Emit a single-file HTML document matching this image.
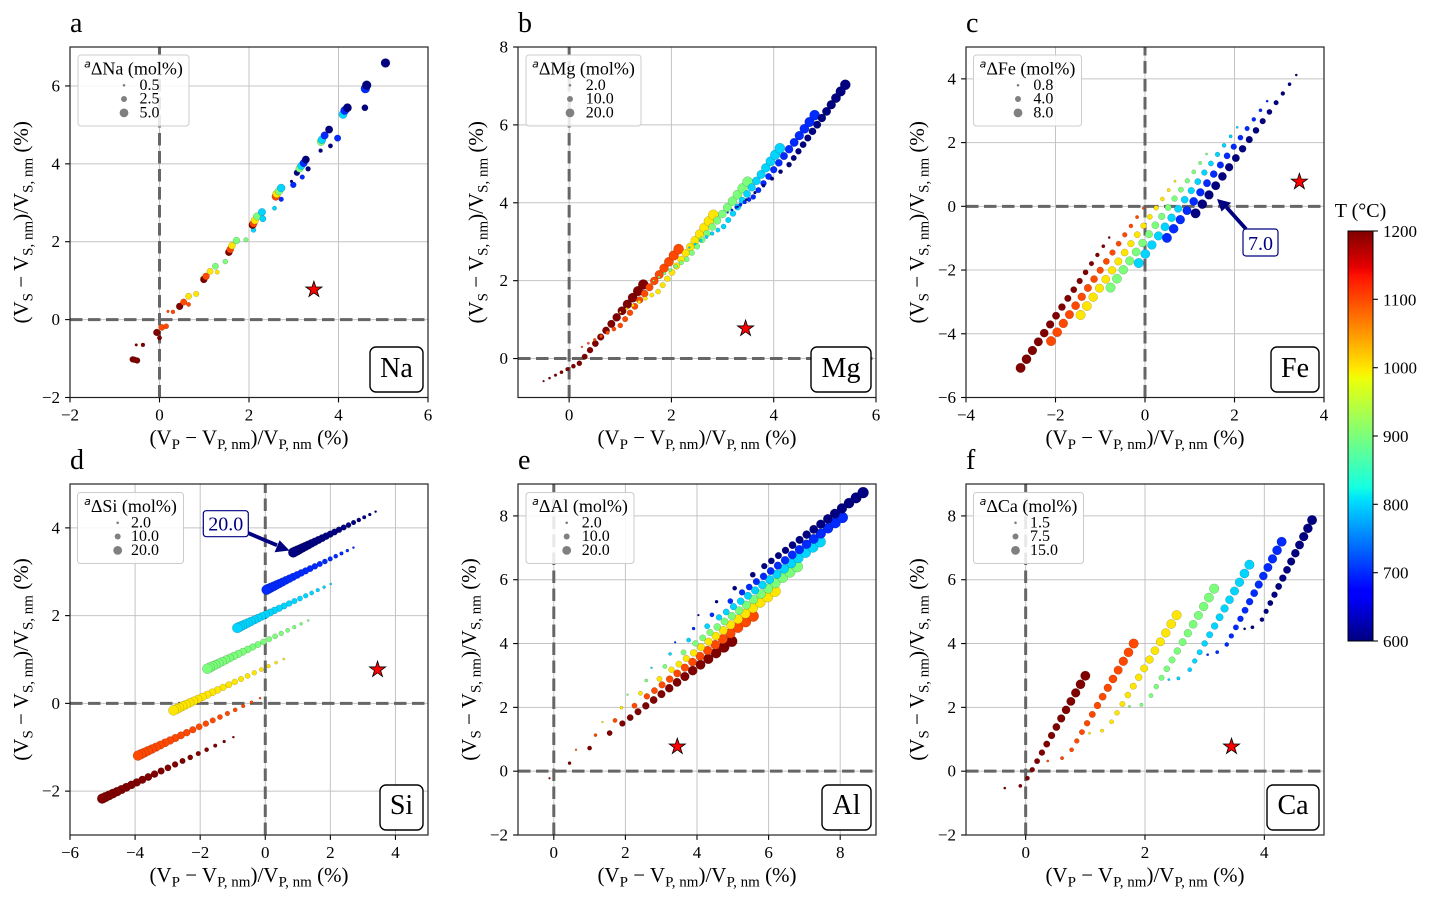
<!DOCTYPE html>
<html><head><meta charset="utf-8">
<style>
html,body{margin:0;padding:0;background:#fff;}
svg{display:block;font-family:"Liberation Serif","Times New Roman",serif;}
.tk{font-size:17px;fill:#000;}
.al{font-size:21px;fill:#000;white-space:pre;}
.sb{font-size:15px;}
.pl{font-size:28px;}
.lt{font-size:18px;white-space:pre;}
.le{font-size:16px;}
.eb{font-size:28px;}
.sup{font-family:"DejaVu Sans",sans-serif;font-size:11px;font-style:italic;}
.an{font-size:20px;fill:#000080;}
</style></head><body>
<svg id="s" width="1430" height="902" viewBox="0 0 1430 902" xmlns="http://www.w3.org/2000/svg">
<defs>
<linearGradient id="jet" x1="0" y1="0" x2="0" y2="1">
<stop offset="0" stop-color="rgb(128,0,0)"/>
<stop offset="0.09" stop-color="rgb(232,0,0)"/>
<stop offset="0.11" stop-color="rgb(255,19,0)"/>
<stop offset="0.34" stop-color="rgb(255,236,0)"/>
<stop offset="0.36" stop-color="rgb(238,255,8)"/>
<stop offset="0.625" stop-color="rgb(21,255,226)"/>
<stop offset="0.65" stop-color="rgb(0,230,247)"/>
<stop offset="0.66" stop-color="rgb(0,219,255)"/>
<stop offset="0.875" stop-color="rgb(0,0,255)"/>
<stop offset="0.89" stop-color="rgb(0,0,255)"/>
<stop offset="1" stop-color="rgb(0,0,128)"/>
</linearGradient>
</defs>
<rect width="1430" height="902" fill="#fff"/>
<g id="grid"></g><g id="dash"></g><g id="pts"></g><g id="stars"></g><g id="axes"></g>

<!-- panel letters -->
<text class="pl" x="70" y="32">a</text>
<text class="pl" x="518" y="32">b</text>
<text class="pl" x="966" y="32">c</text>
<text class="pl" x="70" y="469">d</text>
<text class="pl" x="518" y="469">e</text>
<text class="pl" x="966" y="469">f</text>

<!-- tick labels -->
<g class="tk" text-anchor="middle">
<text x="70" y="420.5">−2</text><text x="159.5" y="420.5">0</text><text x="249" y="420.5">2</text><text x="338.5" y="420.5">4</text><text x="428" y="420.5">6</text>
<text x="569.1" y="420.5">0</text><text x="671.4" y="420.5">2</text><text x="773.7" y="420.5">4</text><text x="876" y="420.5">6</text>
<text x="966" y="420.5">−4</text><text x="1055.5" y="420.5">−2</text><text x="1145" y="420.5">0</text><text x="1234.5" y="420.5">2</text><text x="1324" y="420.5">4</text>
<text x="70" y="858">−6</text><text x="135.1" y="858">−4</text><text x="200.2" y="858">−2</text><text x="265.3" y="858">0</text><text x="330.4" y="858">2</text><text x="395.5" y="858">4</text>
<text x="553.8" y="858">0</text><text x="625.4" y="858">2</text><text x="697" y="858">4</text><text x="768.6" y="858">6</text><text x="840.2" y="858">8</text>
<text x="1025.7" y="858">0</text><text x="1145" y="858">2</text><text x="1264.3" y="858">4</text>
</g>
<g class="tk" text-anchor="end">
<text x="60" y="403">−2</text><text x="60" y="325.1">0</text><text x="60" y="247.2">2</text><text x="60" y="169.3">4</text><text x="60" y="91.4">6</text>
<text x="508" y="364.1">0</text><text x="508" y="286.2">2</text><text x="508" y="208.3">4</text><text x="508" y="130.4">6</text><text x="508" y="52.5">8</text>
<text x="956" y="403">−6</text><text x="956" y="339.3">−4</text><text x="956" y="275.6">−2</text><text x="956" y="211.8">0</text><text x="956" y="148.1">2</text><text x="956" y="84.4">4</text>
<text x="60" y="796.6">−2</text><text x="60" y="708.9">0</text><text x="60" y="621.1">2</text><text x="60" y="533.4">4</text>
<text x="508" y="840.5">−2</text><text x="508" y="776.7">0</text><text x="508" y="712.9">2</text><text x="508" y="649">4</text><text x="508" y="585.2">6</text><text x="508" y="521.4">8</text>
<text x="956" y="840.5">−2</text><text x="956" y="776.7">0</text><text x="956" y="712.9">2</text><text x="956" y="649">4</text><text x="956" y="585.2">6</text><text x="956" y="521.4">8</text>
</g>

<!-- axis labels -->
<g class="al" text-anchor="middle">
<text x="249" y="444.5">(V<tspan class="sb" dy="4.5">P</tspan><tspan dy="-4.5"> − V</tspan><tspan class="sb" dy="4.5">P, nm</tspan><tspan dy="-4.5">)/V</tspan><tspan class="sb" dy="4.5">P, nm</tspan><tspan dy="-4.5"> (%)</tspan></text>
<text x="697" y="444.5">(V<tspan class="sb" dy="4.5">P</tspan><tspan dy="-4.5"> − V</tspan><tspan class="sb" dy="4.5">P, nm</tspan><tspan dy="-4.5">)/V</tspan><tspan class="sb" dy="4.5">P, nm</tspan><tspan dy="-4.5"> (%)</tspan></text>
<text x="1145" y="444.5">(V<tspan class="sb" dy="4.5">P</tspan><tspan dy="-4.5"> − V</tspan><tspan class="sb" dy="4.5">P, nm</tspan><tspan dy="-4.5">)/V</tspan><tspan class="sb" dy="4.5">P, nm</tspan><tspan dy="-4.5"> (%)</tspan></text>
<text x="249" y="882">(V<tspan class="sb" dy="4.5">P</tspan><tspan dy="-4.5"> − V</tspan><tspan class="sb" dy="4.5">P, nm</tspan><tspan dy="-4.5">)/V</tspan><tspan class="sb" dy="4.5">P, nm</tspan><tspan dy="-4.5"> (%)</tspan></text>
<text x="697" y="882">(V<tspan class="sb" dy="4.5">P</tspan><tspan dy="-4.5"> − V</tspan><tspan class="sb" dy="4.5">P, nm</tspan><tspan dy="-4.5">)/V</tspan><tspan class="sb" dy="4.5">P, nm</tspan><tspan dy="-4.5"> (%)</tspan></text>
<text x="1145" y="882">(V<tspan class="sb" dy="4.5">P</tspan><tspan dy="-4.5"> − V</tspan><tspan class="sb" dy="4.5">P, nm</tspan><tspan dy="-4.5">)/V</tspan><tspan class="sb" dy="4.5">P, nm</tspan><tspan dy="-4.5"> (%)</tspan></text>
<text transform="translate(28,222.3) rotate(-90)">(V<tspan class="sb" dy="4.5">S</tspan><tspan dy="-4.5"> − V</tspan><tspan class="sb" dy="4.5">S, nm</tspan><tspan dy="-4.5">)/V</tspan><tspan class="sb" dy="4.5">S, nm</tspan><tspan dy="-4.5"> (%)</tspan></text>
<text transform="translate(483,222.3) rotate(-90)">(V<tspan class="sb" dy="4.5">S</tspan><tspan dy="-4.5"> − V</tspan><tspan class="sb" dy="4.5">S, nm</tspan><tspan dy="-4.5">)/V</tspan><tspan class="sb" dy="4.5">S, nm</tspan><tspan dy="-4.5"> (%)</tspan></text>
<text transform="translate(924,222.3) rotate(-90)">(V<tspan class="sb" dy="4.5">S</tspan><tspan dy="-4.5"> − V</tspan><tspan class="sb" dy="4.5">S, nm</tspan><tspan dy="-4.5">)/V</tspan><tspan class="sb" dy="4.5">S, nm</tspan><tspan dy="-4.5"> (%)</tspan></text>
<text transform="translate(28,659.5) rotate(-90)">(V<tspan class="sb" dy="4.5">S</tspan><tspan dy="-4.5"> − V</tspan><tspan class="sb" dy="4.5">S, nm</tspan><tspan dy="-4.5">)/V</tspan><tspan class="sb" dy="4.5">S, nm</tspan><tspan dy="-4.5"> (%)</tspan></text>
<text transform="translate(476,659.5) rotate(-90)">(V<tspan class="sb" dy="4.5">S</tspan><tspan dy="-4.5"> − V</tspan><tspan class="sb" dy="4.5">S, nm</tspan><tspan dy="-4.5">)/V</tspan><tspan class="sb" dy="4.5">S, nm</tspan><tspan dy="-4.5"> (%)</tspan></text>
<text transform="translate(924,659.5) rotate(-90)">(V<tspan class="sb" dy="4.5">S</tspan><tspan dy="-4.5"> − V</tspan><tspan class="sb" dy="4.5">S, nm</tspan><tspan dy="-4.5">)/V</tspan><tspan class="sb" dy="4.5">S, nm</tspan><tspan dy="-4.5"> (%)</tspan></text>
</g>

<!-- legends -->
<g>
<rect x="78" y="55" width="111" height="71" rx="3" fill="#fff" fill-opacity="0.85" stroke="#cccccc" stroke-width="1"/>
<text class="lt" x="133.5" y="74.5" text-anchor="middle"><tspan class="sup" dy="-7">a</tspan><tspan dy="7">ΔNa (mol%)</tspan></text>
<circle cx="124" cy="85.3" r="1.3" fill="#808080"/><circle cx="124" cy="99" r="3" fill="#808080"/><circle cx="124" cy="112.9" r="4.4" fill="#808080"/>
<text class="le" x="139.5" y="90">0.5</text><text class="le" x="139.5" y="103.7">2.5</text><text class="le" x="139.5" y="117.4">5.0</text>

<rect x="526" y="55" width="115" height="71" rx="3" fill="#fff" fill-opacity="0.85" stroke="#cccccc" stroke-width="1"/>
<text class="lt" x="583.5" y="74.5" text-anchor="middle"><tspan class="sup" dy="-7">a</tspan><tspan dy="7">ΔMg (mol%)</tspan></text>
<circle cx="570" cy="85.3" r="1.3" fill="#808080"/><circle cx="570" cy="99" r="3" fill="#808080"/><circle cx="570" cy="112.9" r="4.4" fill="#808080"/>
<text class="le" x="585.7" y="90">2.0</text><text class="le" x="585.7" y="103.7">10.0</text><text class="le" x="585.7" y="117.4">20.0</text>

<rect x="973.5" y="55" width="108" height="71" rx="3" fill="#fff" fill-opacity="0.85" stroke="#cccccc" stroke-width="1"/>
<text class="lt" x="1027.5" y="74.5" text-anchor="middle"><tspan class="sup" dy="-7">a</tspan><tspan dy="7">ΔFe (mol%)</tspan></text>
<circle cx="1018" cy="85.3" r="1.3" fill="#808080"/><circle cx="1018" cy="99" r="3" fill="#808080"/><circle cx="1018" cy="112.9" r="4.4" fill="#808080"/>
<text class="le" x="1033.4" y="90">0.8</text><text class="le" x="1033.4" y="103.7">4.0</text><text class="le" x="1033.4" y="117.4">8.0</text>

<rect x="77.5" y="492.5" width="106" height="71" rx="3" fill="#fff" fill-opacity="0.85" stroke="#cccccc" stroke-width="1"/>
<text class="lt" x="130.5" y="512" text-anchor="middle"><tspan class="sup" dy="-7">a</tspan><tspan dy="7">ΔSi (mol%)</tspan></text>
<circle cx="117.7" cy="522.8" r="1.3" fill="#808080"/><circle cx="117.7" cy="536.5" r="3" fill="#808080"/><circle cx="117.7" cy="550.4" r="4.4" fill="#808080"/>
<text class="le" x="131" y="527.5">2.0</text><text class="le" x="131" y="541.2">10.0</text><text class="le" x="131" y="554.9">20.0</text>

<rect x="526" y="492.5" width="108" height="71" rx="3" fill="#fff" fill-opacity="0.85" stroke="#cccccc" stroke-width="1"/>
<text class="lt" x="580" y="512" text-anchor="middle"><tspan class="sup" dy="-7">a</tspan><tspan dy="7">ΔAl (mol%)</tspan></text>
<circle cx="566.7" cy="522.8" r="1.3" fill="#808080"/><circle cx="566.7" cy="536.5" r="3" fill="#808080"/><circle cx="566.7" cy="550.4" r="4.4" fill="#808080"/>
<text class="le" x="581.7" y="527.5">2.0</text><text class="le" x="581.7" y="541.2">10.0</text><text class="le" x="581.7" y="554.9">20.0</text>

<rect x="973.5" y="492.5" width="110" height="71" rx="3" fill="#fff" fill-opacity="0.85" stroke="#cccccc" stroke-width="1"/>
<text class="lt" x="1028.5" y="512" text-anchor="middle"><tspan class="sup" dy="-7">a</tspan><tspan dy="7">ΔCa (mol%)</tspan></text>
<circle cx="1015.5" cy="522.8" r="1.3" fill="#808080"/><circle cx="1015.5" cy="536.5" r="3" fill="#808080"/><circle cx="1015.5" cy="550.4" r="4.4" fill="#808080"/>
<text class="le" x="1030" y="527.5">1.5</text><text class="le" x="1030" y="541.2">7.5</text><text class="le" x="1030" y="554.9">15.0</text>
</g>

<!-- element boxes -->
<g fill="#fff" stroke="#000" stroke-width="1.4">
<rect x="370" y="347" width="53" height="45" rx="6"/>
<rect x="811" y="347" width="60" height="45" rx="6"/>
<rect x="1271" y="347" width="48" height="45" rx="6"/>
<rect x="380" y="785" width="43" height="45" rx="6"/>
<rect x="822" y="785" width="49" height="45" rx="6"/>
<rect x="1267" y="785" width="52" height="45" rx="6"/>
</g>
<g class="eb" text-anchor="middle">
<text x="396.5" y="377">Na</text>
<text x="841" y="377">Mg</text>
<text x="1295" y="377">Fe</text>
<text x="401.5" y="814">Si</text>
<text x="846.5" y="814">Al</text>
<text x="1293" y="814">Ca</text>
</g>

<!-- annotations -->
<g>
<line x1="1246" y1="229" x2="1226.4" y2="207.2" stroke="#000080" stroke-width="3.8"/>
<polygon points="1217,199 1231.2,202.8 1221.5,211.5" fill="#000080"/>
<rect x="1243" y="229" width="35" height="27" rx="3" fill="#fff" stroke="#000080" stroke-width="1.2"/>
<text class="an" x="1260.5" y="250" text-anchor="middle">7.0</text>

<line x1="248" y1="533" x2="277" y2="545.2" stroke="#000080" stroke-width="3.8"/>
<polygon points="289.5,550.5 274.6,552.3 279.6,540.3" fill="#000080"/>
<rect x="203.3" y="510.7" width="45" height="26" rx="3" fill="#fff" stroke="#000080" stroke-width="1.2"/>
<text class="an" x="225.8" y="530.5" text-anchor="middle">20.0</text>
</g>

<!-- colorbar -->
<rect x="1348" y="231" width="25" height="410" fill="url(#jet)" stroke="#000" stroke-width="1"/>
<g stroke="#000" stroke-width="1.1">
<line x1="1373" x2="1377.9" y1="231" y2="231"/><line x1="1373" x2="1377.9" y1="299.3" y2="299.3"/><line x1="1373" x2="1377.9" y1="367.7" y2="367.7"/><line x1="1373" x2="1377.9" y1="436" y2="436"/><line x1="1373" x2="1377.9" y1="504.3" y2="504.3"/><line x1="1373" x2="1377.9" y1="572.7" y2="572.7"/><line x1="1373" x2="1377.9" y1="641" y2="641"/>
</g>
<g class="tk">
<text x="1383" y="237">1200</text><text x="1383" y="305.3">1100</text><text x="1383" y="373.7">1000</text><text x="1383" y="442">900</text><text x="1383" y="510.3">800</text><text x="1383" y="578.7">700</text><text x="1383" y="647">600</text>
</g>
<text x="1360.5" y="217" text-anchor="middle" style="font-size:20px">T (°C)</text>
</svg>
<script>
(function(){
var NS="http://www.w3.org/2000/svg";
function el(tag,a,par){var e=document.createElementNS(NS,tag);for(var k in a)e.setAttribute(k,a[k]);par.appendChild(e);return e;}
function G(id){return document.getElementById(id);}
function jet(t){
 var r=t<0.35?0:t<0.66?(t-0.35)/0.31:t<0.89?1:1-0.5*(t-0.89)/0.11;
 var g=t<0.125?0:t<0.375?(t-0.125)/0.25:t<0.64?1:t<0.91?1-(t-0.64)/0.27:0;
 var b=t<0.11?0.5+0.5*t/0.11:t<0.34?1:t<0.65?1-(t-0.34)/0.31:0;
 return "rgb("+Math.round(r*255)+","+Math.round(g*255)+","+Math.round(b*255)+")";
}
function col(T){return jet((T-600)/600);}
var P={
 a:{x0:70,x1:428,xmin:-2,xmax:6,y0:397.5,y1:47,ymin:-2,ymax:7,xt:[-2,0,2,4,6],yt:[-2,0,2,4,6]},
 b:{x0:518,x1:876,xmin:-1,xmax:6,y0:397.5,y1:47,ymin:-1,ymax:8,xt:[0,2,4,6],yt:[0,2,4,6,8]},
 c:{x0:966,x1:1324,xmin:-4,xmax:4,y0:397.5,y1:47,ymin:-6,ymax:5,xt:[-4,-2,0,2,4],yt:[-6,-4,-2,0,2,4]},
 d:{x0:70,x1:428,xmin:-6,xmax:5,y0:835,y1:484,ymin:-3,ymax:5,xt:[-6,-4,-2,0,2,4],yt:[-2,0,2,4]},
 e:{x0:518,x1:876,xmin:-1,xmax:9,y0:835,y1:484,ymin:-2,ymax:9,xt:[0,2,4,6,8],yt:[-2,0,2,4,6,8]},
 f:{x0:966,x1:1324,xmin:-1,xmax:5,y0:835,y1:484,ymin:-2,ymax:9,xt:[0,2,4],yt:[-2,0,2,4,6,8]}
};
function setup(p){
 p.X=function(x){return p.x0+(x-p.xmin)/(p.xmax-p.xmin)*(p.x1-p.x0);};
 p.Y=function(y){return p.y0-(y-p.ymin)/(p.ymax-p.ymin)*(p.y0-p.y1);};
}
for(var k in P){
 var p=P[k];setup(p);
 p.xt.forEach(function(t){var x=p.X(t);
  el('line',{x1:x,x2:x,y1:p.y1,y2:p.y0,stroke:'#c4c4c4','stroke-width':1},G('grid'));
  el('line',{x1:x,x2:x,y1:p.y0,y2:p.y0+4.9,stroke:'#000','stroke-width':1.1},G('axes'));});
 p.yt.forEach(function(t){var y=p.Y(t);
  el('line',{x1:p.x0,x2:p.x1,y1:y,y2:y,stroke:'#c4c4c4','stroke-width':1},G('grid'));
  el('line',{x1:p.x0-4.9,x2:p.x0,y1:y,y2:y,stroke:'#000','stroke-width':1.1},G('axes'));});
 var zx=p.X(0),zy=p.Y(0);
 el('line',{x1:zx,x2:zx,y1:p.y0,y2:p.y1,stroke:'#666','stroke-width':3,'stroke-dasharray':'12.5,5.5'},G('dash'));
 el('line',{x1:p.x0,x2:p.x1,y1:zy,y2:zy,stroke:'#666','stroke-width':3,'stroke-dasharray':'12.5,5.5'},G('dash'));
 el('rect',{x:p.x0,y:p.y1,width:p.x1-p.x0,height:p.y0-p.y1,fill:'none',stroke:'#222','stroke-width':1.2},G('axes'));
 var cx=p.X(3.45),cy=p.Y(0.77),R=8.5,r=3.25,pts=[];
 for(var i=0;i<10;i++){var a=-Math.PI/2+i*Math.PI/5,rr=i%2?r:R;pts.push((cx+rr*Math.cos(a)).toFixed(2)+","+(cy+rr*Math.sin(a)).toFixed(2));}
 el('polygon',{points:pts.join(" "),fill:'#ff0000',stroke:'#000','stroke-width':0.8},G('stars'));
}
var PT=G('pts');
function dot(p,x,y,r,T){el('circle',{cx:p.X(x).toFixed(2),cy:p.Y(y).toFixed(2),r:r.toFixed(2),fill:col(T),stroke:'#000','stroke-opacity':0.35,'stroke-width':0.4},PT);}
// Na
var NA=[[5.05,6.59,4.5,600],[4.63,6.02,4.5,600],[4.6,5.93,4.5,700],[4.59,5.44,3.2,600],[4.2,5.44,4.2,600],[4.14,5.37,4.2,700],[4.1,5.27,4.2,800],[3.98,4.66,3.3,700],[3.79,4.88,3.8,600],[3.69,4.73,3.8,700],[3.63,4.62,4,800],[3.61,4.57,4,900],[3.82,4.46,2.3,600],[3.6,4.34,2,600],[3.27,4.11,3.8,600],[3.22,4.02,3.8,700],[3.17,3.95,3.8,800],[3.13,3.88,3.8,900],[3.07,3.77,3,600],[3.32,3.87,2.5,600],[3.19,3.66,2.4,700],[2.99,3.46,3,700],[2.95,3.55,1.5,600],[2.72,3.38,4,800],[2.67,3.3,4,900],[2.62,3.23,4,1000],[2.6,3.16,4,1100],[2.72,3.09,2.4,700],[2.57,2.86,2.2,800],[2.29,2.76,3.8,800],[2.31,2.59,3.2,800],[2.18,2.65,3.8,900],[2.13,2.55,3.8,1000],[2.1,2.47,3.8,1100],[2.08,2.43,3.8,1200],[2.1,2.3,2.5,800],[1.72,2.03,3.5,900],[1.93,2.05,2.3,900],[1.62,1.9,3.5,1000],[1.58,1.8,3.6,1100],[1.55,1.73,3.6,1200],[1.65,1.93,1.8,900],[1.25,1.37,3.2,900],[1.47,1.49,2.5,900],[1.13,1.24,3.2,1000],[1.29,1.22,2.2,1000],[1.04,1.11,3.5,1100],[0.99,1.03,3.5,1200],[0.95,1.07,1.6,1000],[0.82,0.66,2.8,1000],[0.65,0.6,3.2,1000],[0.65,0.39,2.2,1100],[0.54,0.45,3.3,1100],[0.45,0.34,3.5,1200],[0.3,0.2,2,1100],[0.19,0.21,1.4,1100],[0.15,-0.17,2.6,1100],[0.05,-0.2,3.2,1100],[-0.06,-0.33,3.5,1200],[0,-0.47,2.3,1200],[-0.37,-0.65,2,1200],[-0.52,-0.65,1.4,1200],[-0.56,-1.03,3,1200],[-0.5,-1.05,3,1200],[-0.6,-1.02,3,1200]];
for(var i=NA.length-1;i>=0;i--){var d=NA[i];dot(P.a,d[0],d[1],d[2],d[3]);}
// Mg: shallow small-point segment S->K, then steep large-point segment K->E
var MG=[[1200,[-0.5,-0.58],[0.2,-0.12],[1.45,1.9]],[1100,[0.25,0.3],[1.0,0.85],[2.14,2.81]],[1000,[1.0,1.19],[1.74,1.72],[2.82,3.69]],[900,[1.65,2.0],[2.3,2.55],[3.49,4.54]],[800,[2.35,2.85],[3.02,3.39],[4.12,5.4]],[700,[3.1,3.75],[3.6,4.15],[4.8,6.25]],[600,[3.3,3.9],[4.3,4.98],[5.4,7.03]]];
MG.forEach(function(s){var S=s[1],K=s[2],E=s[3],n1=6,n2=13,i,u;
 for(i=0;i<n1;i++){u=i/n1;dot(P.b,S[0]+(K[0]-S[0])*u,S[1]+(K[1]-S[1])*u,1.0+1.4*u,s[0]);}
 for(i=0;i<n2;i++){u=i/(n2-1);dot(P.b,K[0]+(E[0]-K[0])*u,K[1]+(E[1]-K[1])*u,2.6+2.5*u,s[0]);}});
// Fe
var FE=[[1200,[-0.8,-0.98],[-2.78,-5.07]],[1100,[-0.04,-0.06],[-2.1,-4.23]],[1000,[0.67,0.79],[-1.44,-3.41]],[900,[1.375,1.64],[-0.77,-2.55]],[800,[2.06,2.48],[-0.14,-1.78]],[700,[2.73,3.3],[0.49,-0.99]],[600,[3.38,4.12],[1.13,-0.22]]];
FE.forEach(function(s){var n=16,S=s[1],E=s[2];
 for(var i=0;i<n;i++){var u=i/(n-1);dot(P.c,S[0]+(E[0]-S[0])*u,S[1]+(E[1]-S[1])*u,4.8*Math.sqrt((i+1)/n),s[0]);}});
// Si
var SI=[[1200,[-5.01,-2.17],[-0.98,-0.77]],[1100,[-3.91,-1.19],[-0.16,0.12]],[1000,[-2.82,-0.16],[0.57,1.01]],[900,[-1.78,0.79],[1.32,1.89]],[800,[-0.86,1.72],[2.01,2.72]],[700,[0.04,2.59],[2.71,3.55]],[600,[0.86,3.44],[3.39,4.37]]];
SI.forEach(function(s){var n=22,S=s[1],E=s[2];
 for(var i=n-1;i>=0;i--){var u=i/(n-1),f=0.5*u+0.5*u*u;dot(P.d,S[0]+(E[0]-S[0])*f,S[1]+(E[1]-S[1])*f,5*Math.sqrt(1-0.95*u),s[0]);}});
// Al
var AL=[[1200,[-0.12,-0.22],[4.97,4.07]],[1100,[0.62,0.67],[5.57,4.86]],[1000,[1.36,1.54],[6.18,5.64]],[900,[2.06,2.4],[6.8,6.41]],[800,[2.73,3.24],[7.44,7.19]],[700,[3.39,4.04],[8.06,7.95]],[600,[4.04,4.89],[8.64,8.73]]];
AL.forEach(function(s){var S=s[1],E=s[2],U=[0,0.11,0.22,0.33],Rr=[1.0,1.6,2.2,2.7];
 for(var j=0;j<15;j++){U.push(0.40+j*0.6/14);Rr.push(3.0+j*2.5/14);}
 for(var i=0;i<U.length;i++){var u=U[i];dot(P.e,S[0]+(E[0]-S[0])*u,S[1]+(E[1]-S[1])*u,Rr[i],s[0]);}});
// Ca
var CA=[[1200,[-0.35,-0.53],[-0.09,-0.46],[0.03,-0.22],[1.0,2.99]],[1100,[0.37,0.32],[0.61,0.41],[0.77,0.67],[1.81,4.0]],[1000,[1.07,1.19],[1.28,1.27],[1.44,1.55],[2.53,4.89]],[900,[1.74,2.03],[1.94,2.08],[2.1,2.37],[3.16,5.72]],[800,[2.4,2.87],[2.56,2.91],[2.75,3.18],[3.75,6.47]],[700,[3.05,3.65],[3.21,3.73],[3.37,3.97],[4.29,7.19]],[600,[3.67,4.46],[3.8,4.51],[3.96,4.75],[4.8,7.87]]];
CA.forEach(function(s){var A=s[1],A1=s[2],B=s[3],E=s[4],L=[A,A1];
 for(var j=0;j<13;j++){var u=j/12;L.push([B[0]+(E[0]-B[0])*u,B[1]+(E[1]-B[1])*u]);}
 for(var i=0;i<L.length;i++){dot(P.f,L[i][0],L[i][1],4.8*Math.sqrt((i+1)/15),s[0]);}});
})();
</script>
</body></html>
